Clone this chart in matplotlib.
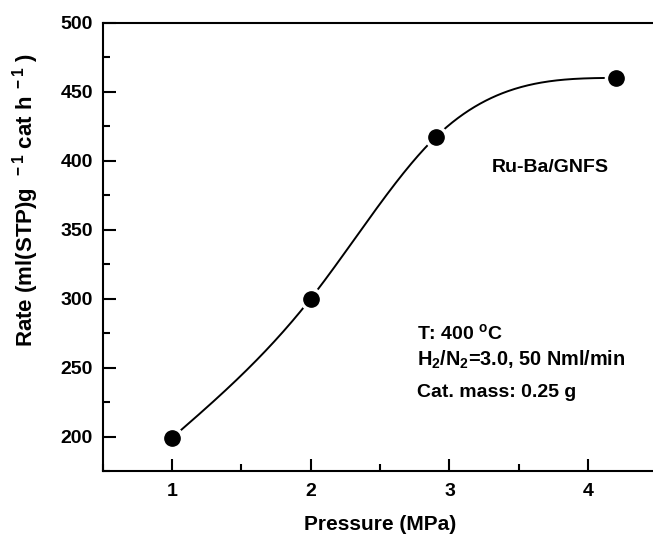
import numpy as np
import matplotlib
matplotlib.use("Agg")
import matplotlib.pyplot as plt
from matplotlib.ticker import MultipleLocator

plt.rcParams['font.family'] = ['Liberation Sans', 'DejaVu Sans']
plt.rcParams['font.weight'] = 'bold'
plt.rcParams['mathtext.fontset'] = 'custom'
plt.rcParams['mathtext.rm'] = 'Liberation Sans:bold'
plt.rcParams['mathtext.bf'] = 'Liberation Sans:bold'
plt.rcParams['mathtext.it'] = 'Liberation Sans:bold'

# data
pressure = [1.0, 2.0, 2.9, 4.2]
rate = [199, 300, 417, 460]
x_ticks = [1, 2, 3, 4]
y_ticks = [200, 250, 300, 350, 400, 450, 500]


def natural_spline(x, y, xs):
    x = np.asarray(x, float); y = np.asarray(y, float)
    n = len(x); h = np.diff(x); d = np.diff(y) / h
    A = np.zeros((n, n)); b = np.zeros(n)
    A[0, 0] = 1; A[-1, -1] = 1
    for i in range(1, n - 1):
        A[i, i - 1] = h[i - 1]; A[i, i] = 2 * (h[i - 1] + h[i]); A[i, i + 1] = h[i]
        b[i] = 6 * (d[i] - d[i - 1])
    M = np.linalg.solve(A, b)
    idx = np.clip(np.searchsorted(x, xs) - 1, 0, n - 2)
    x0 = x[idx]; x1 = x[idx + 1]; hh = h[idx]
    return (M[idx] * (x1 - xs) ** 3 / (6 * hh) + M[idx + 1] * (xs - x0) ** 3 / (6 * hh)
            + (y[idx] / hh - M[idx] * hh / 6) * (x1 - xs)
            + (y[idx + 1] / hh - M[idx + 1] * hh / 6) * (xs - x0))


fig = plt.figure(figsize=(6.53, 5.41), dpi=100)
ax = fig.add_axes([0.1573, 0.1294, 0.8496, 0.8287])

xs = np.linspace(pressure[0], pressure[-1], 400)
ax.plot(xs, natural_spline(pressure, rate, xs), color='black', lw=1.4, zorder=2)
ax.plot(pressure, rate, 'o', ms=16, color='white', mec='white', zorder=3)
ax.plot(pressure, rate, 'o', ms=11, color='black', mec='black', zorder=4)

ax.set_xlim(0.5, 4.5)
ax.set_ylim(175, 500)
ax.set_xticks(x_ticks)
ax.set_yticks(y_ticks)
ax.xaxis.set_minor_locator(MultipleLocator(0.5))
ax.yaxis.set_minor_locator(MultipleLocator(25))
ax.tick_params(which='both', direction='in', width=1.5, labelsize=14,
               top=False, right=False)
ax.tick_params(which='major', length=9)
ax.tick_params(axis='x', which='major', pad=9)
ax.tick_params(axis='y', which='major', pad=7)
ax.tick_params(which='minor', length=5)
for s in ax.spines.values():
    s.set_linewidth(1.5)

ax.set_xlabel('Pressure (MPa)', fontsize=15, fontweight='bold')
ax.xaxis.set_label_coords(0.5, -0.098)
ax.set_ylabel(r'Rate (ml(STP)g$^{\ \ -1}$ cat h$^{\ -1}$ )', fontsize=16, fontweight='bold')
ax.yaxis.set_label_coords(-0.112, 0.605)

ax.text(0.806, 0.676, 'Ru-Ba/GNFS', transform=ax.transAxes, ha='center', va='center',
        fontsize=14, fontweight='bold')
ax.text(0.567, 0.2944, r'T: 400 $^{\rm o}$C', transform=ax.transAxes, ha='left',
        va='baseline', fontsize=14, fontweight='bold')
ax.text(0.567, 0.2349, r'H$_2$/N$_2$=3.0, 50 Nml/min', transform=ax.transAxes, ha='left',
        va='baseline', fontsize=14.3, fontweight='bold')
ax.text(0.567, 0.1657, 'Cat. mass: 0.25 g', transform=ax.transAxes, ha='left',
        va='baseline', fontsize=14, fontweight='bold')

fig.savefig('out.png', dpi=100)
